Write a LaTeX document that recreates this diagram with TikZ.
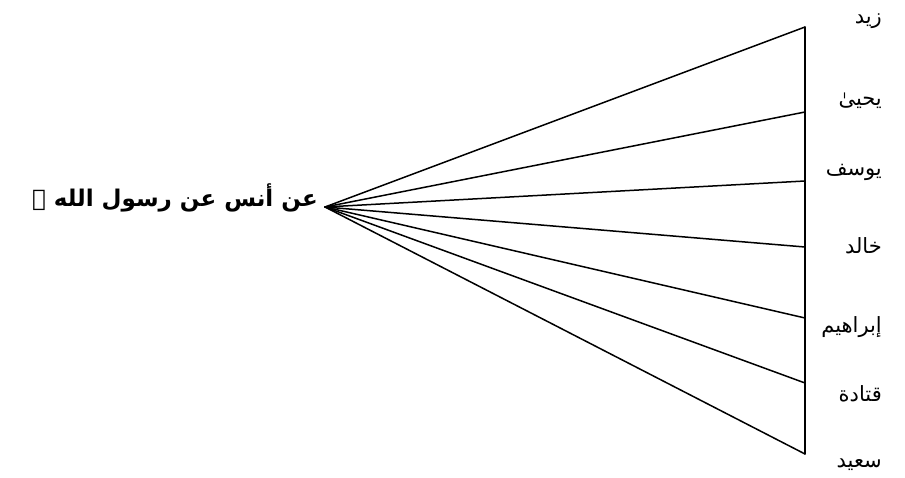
\documentclass[tikz,border=0pt]{standalone}
\usepackage{fontspec}
\TeXXeTstate=1
\newfontfamily\arabicfont[Script=Arabic]{DejaVu Sans}
\begin{document}
\begin{tikzpicture}[x=1pt,y=-1pt,
  fanline/.style={line width=1.5pt,line cap=round,line join=round},
  lbl/.style={anchor=east,inner sep=0pt,font=\arabicfont\fontsize{21}{24}\selectfont},
  srcl/.style={anchor=base east,inner sep=0pt,font=\arabicfont\bfseries\fontsize{23}{26}\selectfont}]
\useasboundingbox (0,0) rectangle (905,478);
\coordinate (apex) at (325,207);
\coordinate (e1) at (805,27);
\coordinate (e2) at (805,112);
\coordinate (e3) at (805,181);
\coordinate (e4) at (805,247);
\coordinate (e5) at (805,318);
\coordinate (e6) at (805,383);
\coordinate (e7) at (805,454);
\foreach \i in {1,...,7} {\draw[fanline] (apex) -- (e\i);}
\draw[fanline] (e1) -- (e7);
\node[srcl] (src) at (318,207) {\beginR عن أنس عن رسول الله ﷺ\endR};
\node[lbl] (n1) at (882,21) {\beginR زيد\endR};
\node[lbl] (n2) at (882,101) {\beginR يحيىٰ\endR};
\node[lbl] (n3) at (882,172) {\beginR يوسف\endR};
\node[lbl] (n4) at (882,246) {\beginR خالد\endR};
\node[lbl] (n5) at (882,327) {\beginR إبراهيم\endR};
\node[lbl] (n6) at (882,394) {\beginR قتادة\endR};
\node[lbl] (n7) at (882,465) {\beginR سعيد\endR};
\end{tikzpicture}
\end{document}
